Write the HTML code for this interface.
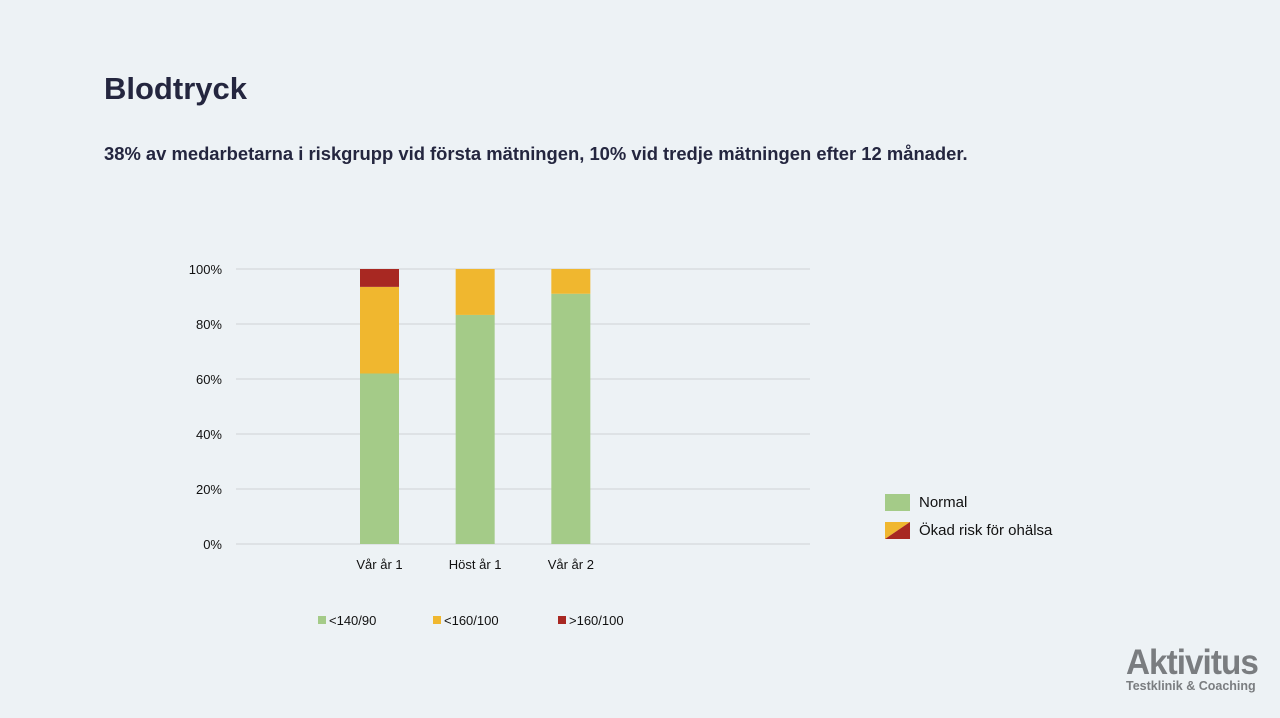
<!DOCTYPE html>
<html><head><meta charset="utf-8"><style>
body{margin:0;width:1280px;height:718px;background:#edf2f5;font-family:"Liberation Sans",sans-serif;overflow:hidden;position:relative}
.t{position:absolute;color:#24263f}
</style></head><body>
<div class="t" style="left:104px;top:71px;font-size:31px;font-weight:bold">Blodtryck</div>
<div class="t" style="left:104px;top:143px;font-size:18.4px;font-weight:bold">38% av medarbetarna i riskgrupp vid första mätningen, 10% vid tredje mätningen efter 12 månader.</div>
<svg id="chart" width="1280" height="718" style="position:absolute;left:0;top:0"></svg>
<div style="position:absolute;left:885px;top:494px;width:25px;height:17px;background:#a4cb88"></div>
<div class="t" style="left:919px;top:494px;font-size:15px;color:#111">Normal</div>
<svg style="position:absolute;left:885px;top:522px" width="25" height="17"><polygon points="0,0 25,0 0,17" fill="#f0b72f"/><polygon points="25,0 25,17 0,17" fill="#a82822"/></svg>
<div class="t" style="left:919px;top:522px;font-size:15px;color:#111">Ökad risk för ohälsa</div>
<div class="t" style="left:1126px;top:645px;color:#7a7d80;font-weight:bold;line-height:1"><div style="font-size:35px;letter-spacing:-1px;transform:scaleX(0.95);transform-origin:left">Aktivitus</div><div style="font-size:12.5px">Testklinik &amp; Coaching</div></div>
<script>
const categories=["Vår år 1","Höst år 1","Vår år 2"];
const normal=[62,83.3,91];
const elevated=[31.5,16.7,9];
const high=[6.5,0,0];
const ticks=[0,20,40,60,80,100];
const ns="http://www.w3.org/2000/svg";
const svg=document.getElementById('chart');
const x0=236,x1=810,y0=544,y1=269,slots=6;
const bw=(x1-x0)/slots;
const y=v=>y0-(y0-y1)*v/100;
const xc=i=>x0+bw*(i+1.5);
function mk(t,a){const e=document.createElementNS(ns,t);for(const k in a)e.setAttribute(k,a[k]);svg.appendChild(e);return e;}
ticks.forEach(t=>{
 const l=mk('line',{x1:x0,x2:x1,y1:y(t),y2:y(t),stroke:'#d9dde0','stroke-width':1.5});
 
 
 const tx=mk('text',{x:222,y:y(t)+5,'text-anchor':'end','font-size':13,fill:'#111','font-family':'Liberation Sans'});
 tx.textContent=t+'%';
 
 
});
const series=[[normal,'#a4cb88','normal'],[elevated,'#f0b72f','elevated'],[high,'#a82822','high']];
categories.forEach((c,i)=>{
 let acc=0;
 series.forEach(([arr,col,nm])=>{
  const v=arr[i];
  if(v>0){const r=mk('rect',{x:xc(i)-19.5,width:39,y:y(acc+v),height:y(acc)-y(acc+v),fill:col});
  
  }
  acc+=v;
 });
 const tx=mk('text',{x:xc(i),y:569,'text-anchor':'middle','font-size':13,fill:'#111','font-family':'Liberation Sans'});
 tx.textContent=c;
 
 
});
const leg=[['<140/90','#a4cb88',318],['<160/100','#f0b72f',433],['>160/100','#a82822',558]];
leg.forEach(([t,c,x])=>{
 const r=mk('rect',{x:x,y:616,width:8,height:8,fill:c});
 
 
 const tx=mk('text',{x:x+11,y:625,'font-size':13,fill:'#111','font-family':'Liberation Sans'});
 tx.textContent=t;
 
 
});
</script>
</body></html>
